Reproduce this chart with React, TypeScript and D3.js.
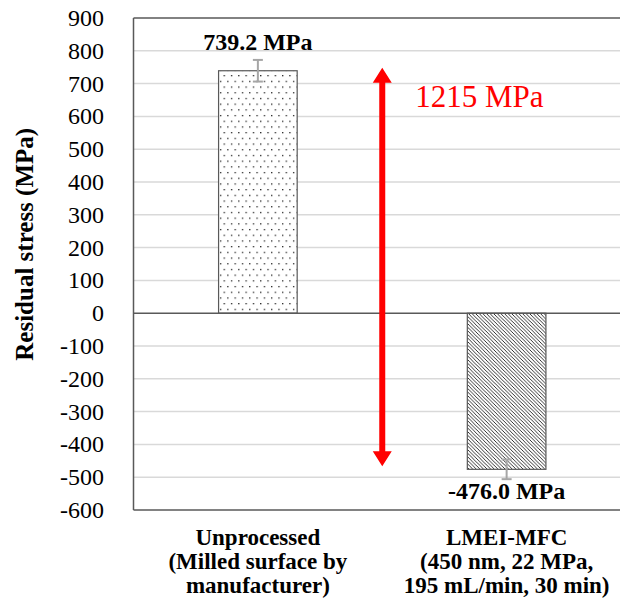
import React from 'react';
import * as d3 from 'd3';

// data
const categories = ['Unprocessed', 'LMEI-MFC'];
const categoryLines = [
  ['Unprocessed', '(Milled surface by', 'manufacturer)'],
  ['LMEI-MFC', '(450 nm, 22 MPa,', '195 mL/min, 30 min)'],
];
const values = [739.2, -476.0];
const errors = [33, 30];
const yTicks = [900, 800, 700, 600, 500, 400, 300, 200, 100, 0, -100, -200, -300, -400, -500, -600];

const W = 620;
const H = 605;
const margin = { left: 133.5, top: 18, right: 631, bottom: 510 };
const font = "'Liberation Serif', 'Times New Roman', 'DejaVu Serif', serif";

const x = d3.scaleBand<string>().domain(categories).range([margin.left, margin.right]).padding(0);
const y = d3.scaleLinear().domain([d3.min(yTicks)!, d3.max(yTicks)!]).range([margin.bottom, margin.top]);

function Arrow(props: { cx: number; y1: number; y2: number }) {
  const { cx, y1, y2 } = props;
  const head = 15;
  const hw = 9.5;
  const sw = 3;
  const d = `M${cx},${y1} L${cx + hw},${y1 + head} L${cx + sw},${y1 + head} L${cx + sw},${y2 - head}
    L${cx + hw},${y2 - head} L${cx},${y2} L${cx - hw},${y2 - head} L${cx - sw},${y2 - head}
    L${cx - sw},${y1 + head} L${cx - hw},${y1 + head} Z`;
  return <path d={d} fill={'#ff0000'} />;
}

export default function App() {
  const bw = x.bandwidth() * 0.316;
  const diff = values[0] - values[1];
  const arrowX = x(categories[1])!;

  return (
    <svg width={W} height={H} style={{ position: 'absolute', left: 0, top: 0, fontFamily: font }}>
      <defs>
        <pattern id="dots" width={7.3} height={11.4} patternUnits="userSpaceOnUse">
          <rect width={7.3} height={11.4} fill="#fff" />
          <rect x={1} y={1} width={1.2} height={1.2} fill="#000" />
          <rect x={4.65} y={6.7} width={1.2} height={1.2} fill="#000" />
        </pattern>
        <pattern id="hatch" width={3.6} height={3.6} patternUnits="userSpaceOnUse">
          <rect width={3.6} height={3.6} fill="#fff" />
          <path d="M-1,-1 L4.6,4.6 M-1,2.6 L1,4.6 M2.6,-1 L4.6,1" stroke="#000" strokeWidth={0.8} />
        </pattern>
      </defs>

      {/* gridlines */}
      <g stroke={'#d9d9d9'} strokeWidth={1.5}>
        {yTicks.filter((t) => t !== 0 && t !== 900 && t !== -600).map((t) => (
          <line key={t} x1={margin.left} x2={W} y1={y(t)} y2={y(t)} />
        ))}
      </g>

      {/* tick labels */}
      <g fontSize={24} textAnchor={'end'} fill={'#000'}>
        {yTicks.map((t) => (
          <text key={t} x={104} y={y(t)} dominantBaseline={'central'}>{t}</text>
        ))}
      </g>

      {/* bars */}
      {categories.map((c, i) => {
        const cx = x(c)! + x.bandwidth() / 2;
        const v = values[i];
        return (
          <g key={c}>
            <rect
              x={cx - bw / 2}
              y={Math.min(y(v), y(0))}
              width={bw}
              height={Math.abs(y(v) - y(0))}
              fill={i === 0 ? 'url(#dots)' : 'url(#hatch)'}
              stroke={'#595959'}
              strokeWidth={1.2}
            />
            <g stroke={'#a6a6a6'} strokeWidth={2}>
              <line x1={cx} x2={cx} y1={y(v - errors[i])} y2={y(v + errors[i])} />
              <line x1={cx - 5} x2={cx + 5} y1={y(v + errors[i])} y2={y(v + errors[i])} />
              <line x1={cx - 5} x2={cx + 5} y1={y(v - errors[i])} y2={y(v - errors[i])} />
            </g>
            <text
              x={cx}
              y={v > 0 ? y(v + errors[i]) - 10 : y(v - errors[i]) + 20}
              textAnchor={'middle'}
              fontSize={24}
              fontWeight={'bold'}
            >
              {v.toFixed(1) + ' MPa'}
            </text>
            <g fontSize={23} fontWeight={'bold'} textAnchor={'middle'}>
              {categoryLines[i].map((line, j) => (
                <text key={j} x={cx} y={margin.bottom + 35 + j * 24}>{line}</text>
              ))}
            </g>
          </g>
        );
      })}

      {/* frame */}
      <g stroke={'#595959'} strokeWidth={1.5}>
        <line x1={margin.left} x2={W} y1={y(900)} y2={y(900)} />
        <line x1={margin.left} x2={W} y1={y(0)} y2={y(0)} />
        <line x1={margin.left} x2={W} y1={y(-600)} y2={y(-600)} />
        <line x1={margin.left} x2={margin.left} y1={y(900)} y2={y(-600)} />
      </g>

      {/* difference arrow */}
      <Arrow cx={arrowX} y1={y(values[0]) - 3} y2={y(values[1]) - 3} />
      <text x={arrowX + 33} y={y(630)} fontSize={31} fill={'#ff0000'}>
        {Math.round(diff) + ' MPa'}
      </text>

      {/* y axis title */}
      <text
        transform={`translate(33, ${y(210)}) rotate(-90)`}
        textAnchor={'middle'}
        fontSize={25}
        fontWeight={'bold'}
      >
        Residual stress (MPa)
      </text>
    </svg>
  );
}
